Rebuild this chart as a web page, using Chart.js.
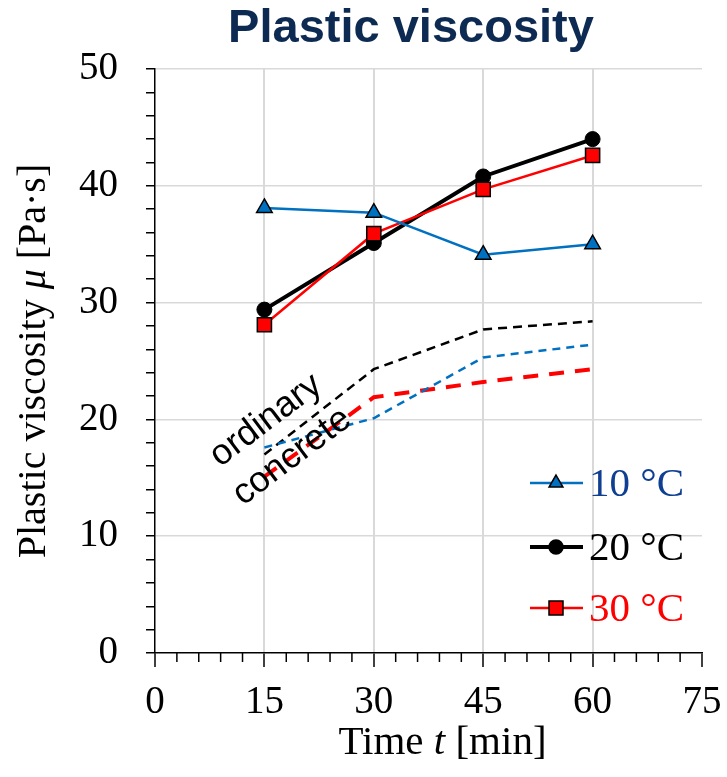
<!DOCTYPE html>
<html>
<head>
<meta charset="UTF-8">
<title>Plastic viscosity</title>
<style>
body {
	margin: 0;
	background-color: #ffffff;
}
.chart-box {
	width: 727px;
	height: 777px;
	position: relative;
}
</style>
<script src="https://cdn.jsdelivr.net/npm/chart.js@4"></script>
</head>
<body>
<div class="chart-box"><canvas id="viscChart"></canvas></div>
<script>
// data
const times = [15, 30, 45, 60];
const visc10 = [38.1, 37.7, 34.1, 35.0];
const visc20 = [29.4, 35.1, 40.8, 44.0];
const visc30 = [28.1, 35.9, 39.7, 42.6];
const ordinary10 = [17.6, 20.1, 25.3, 26.4];
const ordinary20 = [17.0, 24.3, 27.7, 28.4];
const ordinary30 = [15.1, 21.9, 23.2, 24.3];
const seriesLabels = ['10 °C', '20 °C', '30 °C'];
const xTicks = [0, 15, 30, 45, 60, 75];
const yTicks = [0, 10, 20, 30, 40, 50];
const noteLines = ['ordinary', 'concrete'];
const notePos = [[15.2, 19.9], [18.8, 16.8]];

const BLUE = '#0070C0';
const RED = '#FF0000';
const SERIF = '"Liberation Serif", "Times New Roman", serif';
const SANS = '"Liberation Sans", Arial, sans-serif';

function pts(vals) {
	return times.map((t, i) => ({ x: t, y: vals[i] }));
}

function drawRuns(ctx, runs, cx, cy) {
	let total = 0;
	runs.forEach(r => { ctx.font = r.font; total += ctx.measureText(r.text).width; });
	let x = cx - total / 2;
	runs.forEach(r => {
		ctx.font = r.font;
		ctx.fillText(r.text, x, cy);
		x += ctx.measureText(r.text).width;
	});
}

function drawMarker(ctx, style, x, y, r, fill) {
	ctx.beginPath();
	if (style === 'triangle') {
		ctx.moveTo(x, y - r);
		ctx.lineTo(x + r * 0.866, y + r * 0.5);
		ctx.lineTo(x - r * 0.866, y + r * 0.5);
		ctx.closePath();
	} else if (style === 'rect') {
		ctx.rect(x - r * 0.7, y - r * 0.7, r * 1.4, r * 1.4);
	} else {
		ctx.arc(x, y, r, 0, Math.PI * 2);
	}
	ctx.fillStyle = fill;
	ctx.fill();
	ctx.lineWidth = 1.5;
	ctx.strokeStyle = '#000';
	ctx.stroke();
}

const overlay = {
	id: 'overlay',
	afterDatasetsDraw(chart) {
		const { ctx, scales: { x, y } } = chart;
		ctx.save();
		ctx.fillStyle = '#000';
		ctx.font = '36px ' + SANS;
		ctx.textAlign = 'center';
		ctx.textBaseline = 'middle';
		noteLines.forEach((txt, i) => {
			ctx.save();
			ctx.translate(x.getPixelForValue(notePos[i][0]), y.getPixelForValue(notePos[i][1]));
			ctx.rotate(-37 * Math.PI / 180);
			ctx.fillText(txt, 0, 0);
			ctx.restore();
		});
		ctx.restore();
	},
	afterDraw(chart) {
		const { ctx, chartArea: a, scales: { x } } = chart;
		ctx.save();

		// minor ticks on the time axis
		ctx.strokeStyle = '#000';
		ctx.lineWidth = 1.5;
		for (let v = 0; v <= 75; v += 3) {
			if (v % 15 === 0) continue;
			const px = x.getPixelForValue(v);
			ctx.beginPath();
			ctx.moveTo(px, a.bottom);
			ctx.lineTo(px, a.bottom + 9);
			ctx.stroke();
		}

		// title
		ctx.fillStyle = '#0C2A52';
		ctx.textAlign = 'left';
		ctx.textBaseline = 'alphabetic';
		ctx.font = 'bold 47px ' + SANS;
		const tw = ctx.measureText('Plastic viscosity').width;
		ctx.fillText('Plastic viscosity', 411 - tw / 2, 42);

		// axis titles
		ctx.fillStyle = '#000';
		ctx.textBaseline = 'middle';
		drawRuns(ctx, [
			{ text: 'Time ', font: '41px ' + SERIF },
			{ text: 't', font: 'italic 41px ' + SERIF },
			{ text: ' [min]', font: '41px ' + SERIF }
		], (a.left + a.right) / 2 + 14, 743);

		ctx.save();
		ctx.translate(34, (a.top + a.bottom) / 2);
		ctx.rotate(-Math.PI / 2);
		drawRuns(ctx, [
			{ text: 'Plastic viscosity ', font: '40px ' + SERIF },
			{ text: 'μ', font: 'italic 40px ' + SERIF },
			{ text: ' [Pa·s]', font: '40px ' + SERIF }
		], 0, 0);
		ctx.restore();

		// legend
		const legendItems = [
			{ color: BLUE, text: '#0F3F92', style: 'triangle', r: 8, lw: 2.5 },
			{ color: '#000', text: '#000', style: 'circle', r: 7, lw: 4 },
			{ color: RED, text: RED, style: 'rect', r: 10, lw: 2.5 }
		];
		const ly = [a.bottom - 170, a.bottom - 106, a.bottom - 45];
		legendItems.forEach((it, i) => {
			const yy = ly[i];
			ctx.strokeStyle = it.color;
			ctx.lineWidth = it.lw;
			ctx.beginPath();
			ctx.moveTo(530, yy);
			ctx.lineTo(583, yy);
			ctx.stroke();
			drawMarker(ctx, it.style, 556, yy, it.r, it.color);
			ctx.fillStyle = it.text;
			ctx.font = '41px ' + SERIF;
			ctx.textAlign = 'left';
			ctx.textBaseline = 'middle';
			ctx.fillText(seriesLabels[i], 589, yy + 2);
		});
		ctx.restore();
	}
};

const ctx = document.getElementById('viscChart').getContext('2d');
new Chart(ctx, {
	type: 'line',
	data: {
		datasets: [
			{ label: 'ordinary 10', data: pts(ordinary10), borderColor: BLUE, borderWidth: 2.5, borderDash: [8, 6], pointRadius: 0 },
			{ label: 'ordinary 20', data: pts(ordinary20), borderColor: '#000', borderWidth: 2.5, borderDash: [9, 6], pointRadius: 0 },
			{ label: 'ordinary 30', data: pts(ordinary30), borderColor: RED, borderWidth: 4, borderDash: [15, 11], pointRadius: 0 },
			{ label: seriesLabels[0], data: pts(visc10), borderColor: BLUE, borderWidth: 2.5, pointStyle: 'triangle', pointRadius: 9, pointBackgroundColor: BLUE, pointBorderColor: '#000', pointBorderWidth: 1.5 },
			{ label: seriesLabels[2], data: pts(visc30), borderColor: RED, borderWidth: 2.5, pointStyle: 'rect', pointRadius: 10, pointBackgroundColor: RED, pointBorderColor: '#000', pointBorderWidth: 1.5 },
			{ label: seriesLabels[1], data: pts(visc20), borderColor: '#000', borderWidth: 4, pointStyle: 'circle', pointRadius: 7.5, pointBackgroundColor: '#000', pointBorderColor: '#000', pointBorderWidth: 1 }
		]
	},
	options: {
		responsive: true,
		maintainAspectRatio: false,
		animation: false,
		layout: { padding: { left: 0, right: 25, top: 69, bottom: 0 } },
		plugins: {
			legend: { display: false },
			title: { display: false },
			tooltip: { enabled: false }
		},
		scales: {
			x: {
				type: 'linear',
				min: xTicks[0],
				max: xTicks[xTicks.length - 1],
				afterBuildTicks: s => { s.ticks = xTicks.map(v => ({ value: v })); },
				afterFit: s => { s.height = 124; s.paddingLeft = 0; s.paddingRight = 0; },
				border: { color: '#000', width: 1.5 },
				grid: {
					color: c => (c.tick && c.tick.value > 0 && c.tick.value < 75) ? '#D9D9D9' : 'rgba(0,0,0,0)',
					lineWidth: 2,
					tickColor: '#000',
					tickWidth: 1.5,
					tickLength: 14
				},
				ticks: { color: '#000', font: { family: SERIF, size: 39 }, padding: 12, maxRotation: 0, autoSkip: false }
			},
			y: {
				min: 0,
				max: 50,
				afterBuildTicks: s => {
					const t = [];
					for (let v = 0; v <= 50; v += 2) t.push({ value: v });
					s.ticks = t;
				},
				afterFit: s => { s.width = 155; s.paddingTop = 0; s.paddingBottom = 0; },
				border: { color: '#000', width: 1.5 },
				grid: {
					color: c => (c.tick && c.tick.value % 10 === 0 && c.tick.value > 0) ? '#D9D9D9' : 'rgba(0,0,0,0)',
					lineWidth: 1.5,
					tickColor: '#000',
					tickWidth: 1.5,
					tickLength: 9
				},
				ticks: {
					color: '#000',
					font: { family: SERIF, size: 39 },
					padding: 28,
					autoSkip: false,
					callback: v => yTicks.includes(v) ? v : ''
				}
			}
		}
	},
	plugins: [overlay]
});
</script>
</body>
</html>
